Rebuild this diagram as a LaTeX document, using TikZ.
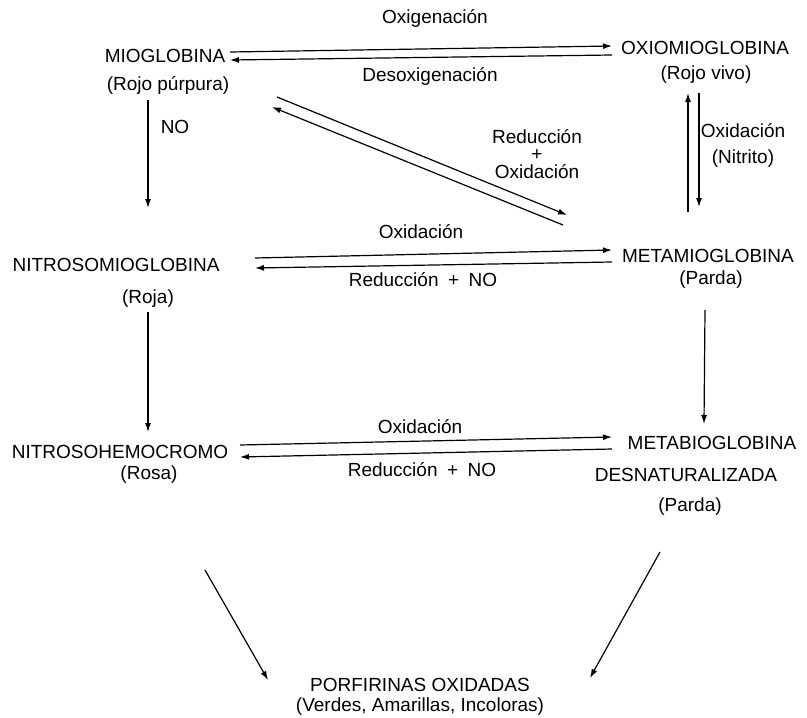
\documentclass[tikz,border=0pt]{standalone}
\usepackage{fontspec}
\setmainfont{Liberation Sans}
\usetikzlibrary{calc,arrows.meta}
\tikzset{
  txt/.style={inner sep=0pt, text height=13pt, text depth=0pt, font=\fontsize{19}{23}\selectfont},
  lbl/.style={inner sep=0pt, align=center, font=\fontsize{19}{17.5}\selectfont},
  arr/.style={line width=1.2pt, -{Latex[length=9pt,width=6pt]}}
}
\begin{document}
\begin{tikzpicture}[x=1pt,y=-1pt]
\useasboundingbox (0,0) rectangle (807,718);
% compounds
\node[txt] (mio)   at (165,56)  {MIOGLOBINA};
\node[txt] (mioc)  at (168,84)  {(Rojo púrpura)};
\node[txt] (oxi)   at (705,48)  {OXIOMIOGLOBINA};
\node[txt] (oxic)  at (706,73)  {(Rojo vivo)};
\node[txt] (nitro) at (116,265) {NITROSOMIOGLOBINA};
\node[txt] (nitroc) at (148,297) {(Roja)};
\node[txt] (meta)  at (708,256) {METAMIOGLOBINA};
\node[txt] (metac) at (711,278) {(Parda)};
\node[txt] (nhc)   at (120,452) {NITROSOHEMOCROMO};
\node[txt] (nhcc)  at (149,473) {(Rosa)};
\node[txt] (metab) at (712,443) {METABIOGLOBINA};
\node[txt] (desn)  at (686,475) {DESNATURALIZADA};
\node[txt] (desnc) at (690,505) {(Parda)};
\node[txt] (porf)  at (420,685) {PORFIRINAS OXIDADAS};
\node[txt] (porfc) at (420,705) {(Verdes, Amarillas, Incoloras)};
% labels
\node[txt] (lOxig) at (435,17)  {Oxigenación};
\node[txt] (lDes)  at (430,75)  {Desoxigenación};
\node[txt] (lNO)   at (175,127) {NO};
\node[lbl] (lRO)   at (537,154) {Reducción\\+\\Oxidación};
\node[lbl,font=\fontsize{19}{26}\selectfont] (lON) at (743,145) {Oxidación\\(Nitrito)};
\node[txt] (lOx2)  at (421,232) {Oxidación};
\node[txt] (lRN2)  at (423,280) {Reducción\enspace+\enspace NO};
\node[txt] (lOx3)  at (420,427) {Oxidación};
\node[txt] (lRN3)  at (422,470) {Reducción\enspace+\enspace NO};
% connectors
\draw[arr] ($(mio)+(65,-4)$) -- ($(oxi)+(-93,-2)$);
\draw[arr] ($(oxi)+(-93,7)$) -- ($(mio)+(65,4)$);
\draw[arr] ($(mioc)+(-20,16)$) -- ($(nitro)+(32,-57)$);
\draw[arr] ($(mioc)+(109,13)$) -- ($(meta)+(-141,-41)$);
\draw[arr] ($(meta)+(-145,-31)$) -- ($(mioc)+(104,23)$);
\draw[arr] ($(meta)+(-20,-44)$) -- ($(oxic)+(-18,20)$);
\draw[arr] ($(oxic)+(-7,20)$) -- ($(meta)+(-9,-49)$);
\draw[arr] ($(nitro)+(139,-7)$) -- ($(meta)+(-96,-6)$);
\draw[arr] ($(meta)+(-96,6)$) -- ($(nitro)+(139,3)$);
\draw[arr] ($(nitroc)+(0,15)$) -- ($(nhc)+(28,-20)$);
\draw[arr] ($(metac)+(-6,32)$) -- ($(metab)+(-8,-19)$);
\draw[arr] ($(nhc)+(120,-7)$) -- ($(metab)+(-100,-6)$);
\draw[arr] ($(metab)+(-100,6)$) -- ($(nhc)+(120,5)$);
\draw[arr] ($(nhcc)+(56,97)$) -- ($(porf)+(-152,-5)$);
\draw[arr] ($(desnc)+(-30,47)$) -- ($(porf)+(170,-7)$);
\end{tikzpicture}
\end{document}
